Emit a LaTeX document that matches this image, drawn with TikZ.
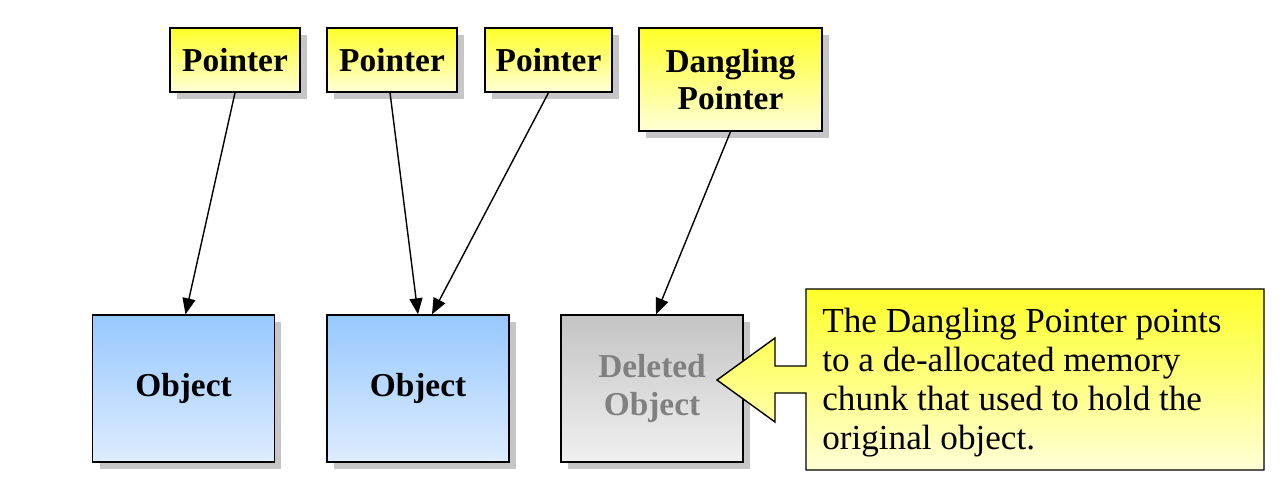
\documentclass[tikz,border=0pt]{standalone}
\usepackage{fontspec}
\setmainfont{Liberation Serif}
\usepackage{xcolor}
\usetikzlibrary{arrows.meta, positioning, calc}
\definecolor{ptrtop}{RGB}{255,255,40}
\definecolor{ptrbot}{RGB}{255,255,215}
\definecolor{objtop}{RGB}{150,200,255}
\definecolor{objbot}{RGB}{222,236,255}
\definecolor{deltop}{RGB}{196,196,196}
\definecolor{delbot}{RGB}{240,240,240}
\definecolor{deltext}{RGB}{128,128,128}
\tikzset{
  ptrbox/.style={
    draw, thick, align=center, top color=ptrtop, bottom color=ptrbot,
    font=\fontsize{19}{21.5}\selectfont\bfseries, inner sep=0pt
  },
  objbox/.style={
    draw, thick, align=center, top color=objtop, bottom color=objbot,
    font=\fontsize{19}{22}\selectfont\bfseries, inner sep=0pt,
    minimum width=3.64cm, minimum height=2.94cm
  },
  delbox/.style={
    objbox, top color=deltop, bottom color=delbot, text=deltext
  },
  boxshadow/.style={fill=gray!45, draw=none},
  ptrarrow/.style={-{Triangle[length=3.2mm, width=2.6mm]}, thick},
  notetext/.style={
    align=left, inner sep=0pt,
    font=\fontsize{20}{22.1}\selectfont
  },
}

\begin{document}
\begin{tikzpicture}[x=0.02cm, y=-0.02cm]
  \useasboundingbox (0,0) rectangle (1287,500);

  % shadows
  \foreach \xa/\ya/\xb/\yb in {170/28/300/92, 327/28/457/92, 485/28/612/92,
    639/28/822/131, 93/315/274/462, 327/315/509/462, 561/315/743/462}
    \fill[boxshadow] (\xa+7,\ya+7) rectangle (\xb+7,\yb+7);

  % pointers
  \node[ptrbox, minimum width=2.6cm, minimum height=1.28cm] (ptra) at (235,60) {Pointer};
  \node[ptrbox, minimum width=2.6cm, minimum height=1.28cm] (ptrb) at (392,60) {Pointer};
  \node[ptrbox, minimum width=2.54cm, minimum height=1.28cm] (ptrc) at (548.5,60) {Pointer};
  \node[ptrbox, minimum width=3.66cm, minimum height=2.06cm] (dang) at (730.5,79.5)
    {Dangling\\Pointer};

  % objects
  \node[objbox] (obja) at (183.5,388.5) {Object};
  \node[objbox] (objb) at (418,388.5) {Object};
  \node[delbox] (delo) at (652,388.5) {Deleted\\Object};

  % callout
  \coordinate (tip) at (717,380);
  \shade[top color=ptrtop, bottom color=ptrbot, draw, thick]
    (806,289) -- (1264,289) -- (1264,470) -- (806,470) -- (806,393)
    -- (775,393) -- (775,422) -- (tip) -- (775,338) -- (775,366)
    -- (806,366) -- cycle;
  \node[notetext, anchor=north west] (note) at (822,308)
    {The Dangling Pointer points\\to a de-allocated memory\\chunk that used to hold the\\original object.};

  % arrows
  \draw[ptrarrow] ($(ptra.south)+(0,0)$) -- ($(obja.north)+(2,0)$);
  \draw[ptrarrow] ($(ptrb.south)+(-2,0)$) -- ($(objb.north)+(0,0)$);
  \draw[ptrarrow] (ptrc.south) -- ($(objb.north)+(14,0)$);
  \draw[ptrarrow] (dang.south) -- ($(delo.north)+(4,0)$);
\end{tikzpicture}
\end{document}
